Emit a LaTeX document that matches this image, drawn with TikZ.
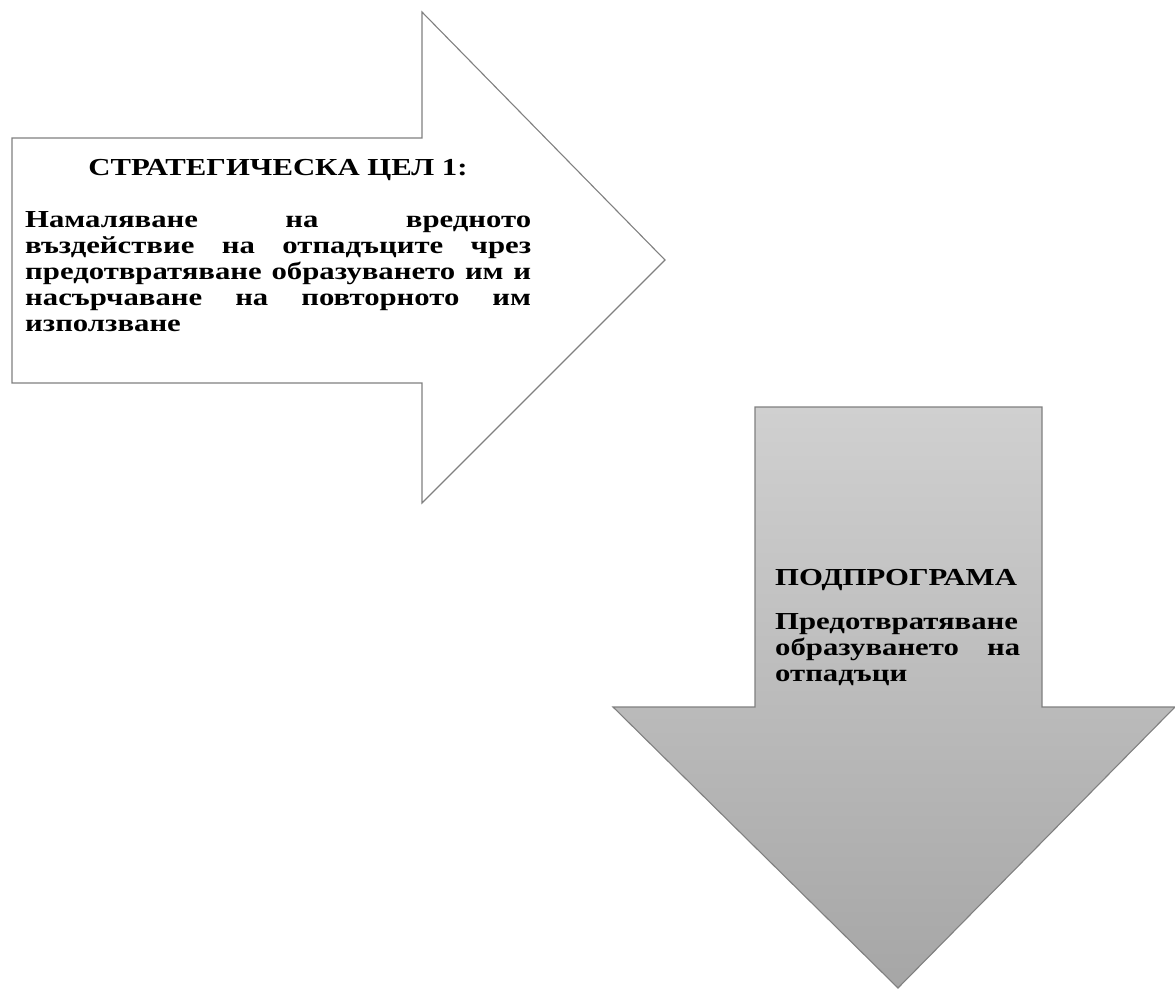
\documentclass[tikz,border=0pt]{standalone}
\usepackage{fontspec}
\setmainfont[FakeStretch=1.26]{Liberation Serif}
\definecolor{edge}{RGB}{128,128,128}
\definecolor{gtop}{RGB}{208,208,208}
\definecolor{gbot}{RGB}{166,166,166}
\tikzset{
  arrowshape/.style={draw=edge, line width=1.1pt, line join=miter},
  titletext/.style={font=\fontsize{24.4}{26}\selectfont\bfseries, inner sep=0pt},
  bodytext/.style={font=\fontsize{24.4}{26}\selectfont\bfseries, inner sep=0pt, align=justify, anchor=north west},
}
\begin{document}
\begin{tikzpicture}[x=1pt,y=-1pt]
\useasboundingbox (0,0) rectangle (1175,990);
% right arrow
\draw[arrowshape, fill=white] (12,138) -- (422,138) -- (422,12) -- (665,260) -- (422,503) -- (422,383) -- (12,383) -- cycle;
% down arrow
\draw[arrowshape, top color=gtop, bottom color=gbot] (755,407) -- (1042,407) -- (1042,707) -- (1175,707) -- (898,988) -- (613,707) -- (755,707) -- cycle;
% texts
\node[titletext, anchor=base] (t1) at (278,175.5) {СТРАТЕГИЧЕСКА ЦЕЛ 1:};
\node[bodytext, text width=506pt] (b1) at (25,211) {Намаляване на вредното\linebreak въздействие на отпадъците чрез\linebreak предотвратяване образуването им и\linebreak насърчаване на повторното им\linebreak използване};
\node[titletext, anchor=base west] (t2) at (775,585) {ПОДПРОГРАМА};
\node[bodytext, text width=245pt] (b2) at (775,613) {Предотвратяване\linebreak образуването на\linebreak отпадъци};
\end{tikzpicture}
\end{document}
